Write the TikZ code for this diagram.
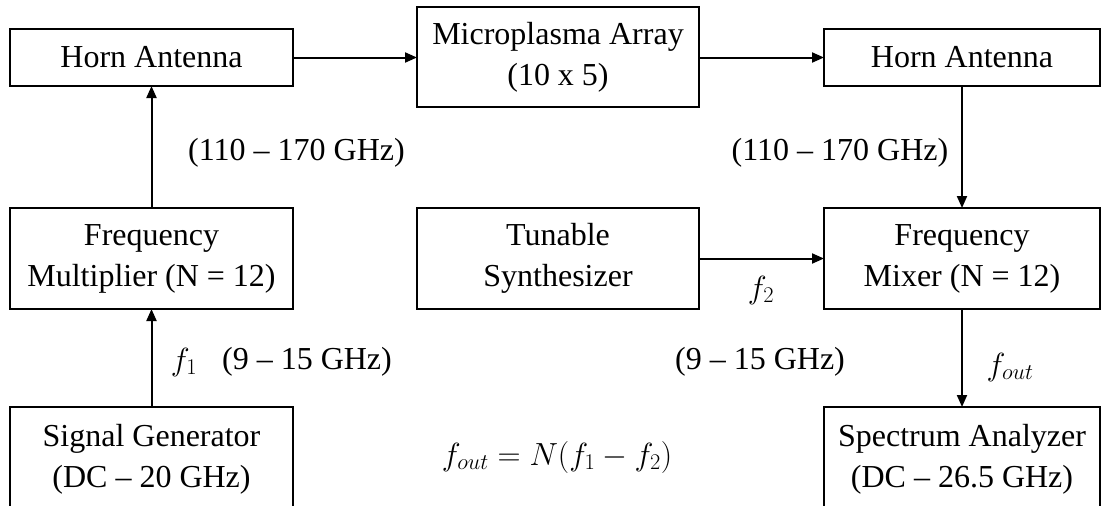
\RequirePackage{fix-cm}
\documentclass[tikz,border=0pt]{standalone}
\usepackage{fontspec}
\setmainfont{Liberation Serif}
\usetikzlibrary{arrows.meta}
\begin{document}
\begin{tikzpicture}[x=1pt,y=-1pt,
  blk/.style={draw,line width=1.5pt,inner sep=0pt,outer sep=0pt,align=center,
    font=\fontsize{32}{41}\selectfont},
  lbl/.style={inner sep=0pt,font=\fontsize{32}{41}\selectfont},
  arr/.style={line width=2pt,-{Triangle[length=12pt,width=10pt]}}]
\useasboundingbox (0,0) rectangle (1101,506);
\clip (0,0) rectangle (1101,506);
\node[blk,minimum width=283pt,minimum height=57pt] (hornL) at (151.5,57.5) {Horn Antenna};
\node[blk,minimum width=282pt,minimum height=100pt] (micro) at (558,57) {Microplasma Array\\(10 x 5)};
\node[blk,minimum width=276pt,minimum height=57pt] (hornR) at (962,57.5) {Horn Antenna};
\node[blk,minimum width=283pt,minimum height=101pt] (mult) at (151.5,258.5) {Frequency\\Multiplier (N = 12)};
\node[blk,minimum width=282pt,minimum height=101pt] (synth) at (558,258.5) {Tunable\\Synthesizer};
\node[blk,minimum width=276pt,minimum height=101pt] (mixer) at (962,258.5) {Frequency\\Mixer (N = 12)};
\node[blk,minimum width=283pt,minimum height=104pt] (sg) at (151.5,459) {Signal Generator\\(DC – 20 GHz)};
\node[blk,minimum width=276pt,minimum height=104pt] (sa) at (962,459) {Spectrum Analyzer\\(DC – 26.5 GHz)};
\draw[arr] (hornL.east) -- (micro.west |- hornL.east);
\draw[arr] (micro.east |- hornR.west) -- (hornR.west);
\draw[arr] (mult.north) -- (hornL.south);
\draw[arr] (sg.north) -- (mult.south);
\draw[arr] (hornR.south) -- (mixer.north);
\draw[arr] (synth.east) -- (mixer.west);
\draw[arr] (mixer.south) -- (sa.north);
\node[lbl] (l1) at (296.5,153) {(110 – 170 GHz)};
\node[lbl] (l2) at (840,153) {(110 – 170 GHz)};
\node[lbl] (f1) at (184,362) {$f_1$};
\node[lbl] (l3) at (307,362) {(9 – 15 GHz)};
\node[lbl] (f2) at (761,290) {$f_2$};
\node[lbl] (l4) at (760,362) {(9 – 15 GHz)};
\node[lbl] (fo) at (1010,367) {$f_{out}$};
\node[lbl] (eq) at (557,457) {$f_{out} = N(f_1 - f_2)$};
\end{tikzpicture}
\end{document}
